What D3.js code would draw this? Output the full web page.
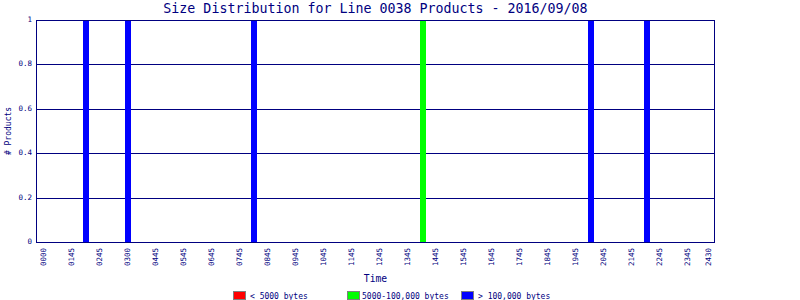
<!DOCTYPE html>
<html>
<head>
<meta charset="utf-8">
<script src="https://cdn.jsdelivr.net/npm/d3@7"></script>
<style>
    body { margin: 0; background: #fff; }
    text { font-family: "DejaVu Sans Mono", monospace; fill: #000080; }
</style>
</head>
<body>
<svg id="size_plot" width="800" height="300"></svg>
<script>
// tick labels along the time axis and where they sit (in axis hours)
const tickLabels = ["0000","0145","0245","0300","0445","0545","0645","0745","0845","0945",
                    "1045","1145","1245","1345","1445","1545","1645","1745","1845","1945",
                    "2045","2145","2245","2345","2430"];
const tickHours  = [0,1,2,3,4,5,6,7,8,9,10,11,12,13,14,15,16,17,18,19,20,21,22,23,23.75];

// product counts per size class (time in axis hours, count)
const smallTimes  = [];
const smallCounts = [];
const mediumTimes  = [13.565];
const mediumCounts = [1];
const largeTimes  = [1.54, 3.035, 7.552, 19.578, 21.582];
const largeCounts = [1, 1, 1, 1, 1];

const yTicks = [0, 0.2, 0.4, 0.6, 0.8, 1];

const legendItems = ["< 5000 bytes", "5000-100,000 bytes", "> 100,000 bytes"];
const legendColors = ["#ff0000", "#00ff00", "#0000ff"];

var svg = d3.select("#size_plot");

var margin = { top: 20, bottom: 58, left: 36, right: 85 };
var width  = 800 - margin.left - margin.right;
var height = 300 - margin.top - margin.bottom;
var navy   = "#000080";

const xScale = d3.scaleLinear().domain([-0.25, 24]).range([0, width]);
const yScale = d3.scaleLinear().domain([0, 1]).range([height, 0]);
const barWidth = 0.215;

svg.append("text")
    .attr("x", margin.left + width / 2)
    .attr("y", 13)
    .attr("text-anchor", "middle")
    .style("font-size", "13.3px")
    .text("Size Distribution for Line 0038 Products - 2016/09/08");

const chart = svg.append("g")
    .attr("transform", `translate(${margin.left},${margin.top})`);

// gridlines
chart.selectAll(".grid").data(yTicks.filter(d => d > 0 && d < 1))
    .enter().append("line")
    .attr("x1", 0).attr("x2", width)
    .attr("y1", d => Math.round(yScale(d)) + 0.5)
    .attr("y2", d => Math.round(yScale(d)) + 0.5)
    .attr("stroke", navy);

// bars
const series = [
    { times: smallTimes,  counts: smallCounts,  color: legendColors[0] },
    { times: mediumTimes, counts: mediumCounts, color: legendColors[1] },
    { times: largeTimes,  counts: largeCounts,  color: legendColors[2] }
];
series.forEach(s => {
    chart.selectAll(null).data(s.times.map((t, i) => [t, s.counts[i]]))
        .enter().append("rect")
        .attr("x", d => Math.round(xScale(d[0] - barWidth / 2)))
        .attr("width", Math.round(xScale(barWidth) - xScale(0)))
        .attr("y", d => yScale(d[1]))
        .attr("height", d => height - yScale(d[1]))
        .attr("fill", s.color);
});

// frame
chart.append("rect")
    .attr("x", 0.5).attr("y", 0.5)
    .attr("width", width - 1).attr("height", height)
    .attr("fill", "none")
    .attr("stroke", navy);

// y axis labels
chart.selectAll(".ylab").data(yTicks)
    .enter().append("text")
    .attr("x", -4)
    .attr("y", d => yScale(d) + 2)
    .attr("text-anchor", "end")
    .style("font-size", "7.5px")
    .text(d => d);

// x axis labels
chart.selectAll(".xlab").data(tickLabels)
    .enter().append("text")
    .attr("transform", (d, i) => `translate(${xScale(tickHours[i]) + 2.5},${height + 6}) rotate(-90)`)
    .attr("text-anchor", "end")
    .style("font-size", "7.5px")
    .text(d => d);

svg.append("text")
    .attr("x", margin.left + width / 2)
    .attr("y", 282)
    .attr("text-anchor", "middle")
    .style("font-size", "9.7px")
    .text("Time");

svg.append("text")
    .attr("transform", `translate(11,${margin.top + height / 2}) rotate(-90)`)
    .attr("text-anchor", "middle")
    .style("font-size", "8px")
    .text("# Products");

// legend
const legendX = [233, 347, 461];
const legend = svg.selectAll(".legend").data(legendItems)
    .enter().append("g")
    .attr("transform", (d, i) => `translate(${legendX[i]},291)`);
legend.append("rect")
    .attr("x", 0.5).attr("y", 0.5)
    .attr("width", 12).attr("height", 8)
    .attr("fill", (d, i) => legendColors[i])
    .attr("stroke", "#808080");
legend.append("text")
    .attr("x", (d, i) => i === 1 ? 15 : 17)
    .attr("y", 7.5)
    .style("font-size", "8px")
    .text(d => d);
</script>
</body>
</html>
